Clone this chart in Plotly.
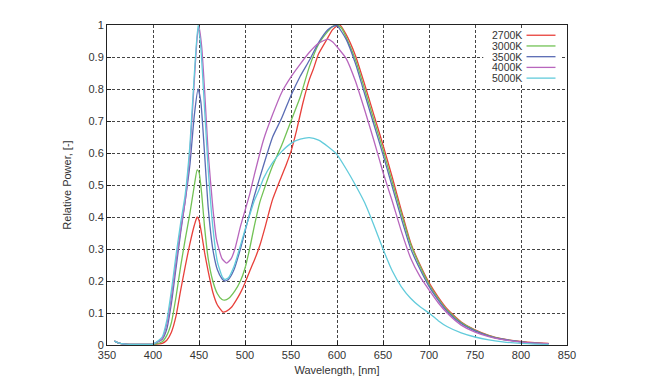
import plotly.graph_objects as go

# ---- data ----
series_names = ["2700K", "3000K", "3500K", "4000K", "5000K"]
series_colors = ["#e8403a", "#72c255", "#5a6cb4", "#b866bd", "#62cbdb"]

wl_2700 = [358, 362, 370, 385, 400, 410, 415, 420, 425, 430, 435, 440, 445, 448, 450, 453, 456, 460, 465, 470, 476,
           480, 485, 490, 495, 500, 505, 511, 516, 522, 527, 530, 538, 545, 550, 556, 563, 570, 574, 580, 589, 595,
           600, 603, 610, 620, 630, 640, 650, 660, 670, 680, 690, 700, 710, 720, 735, 750, 765, 780, 800, 815, 830]
p_2700 = [0.012, 0.007, 0.003, 0.002, 0.002, 0.005, 0.015, 0.04, 0.09, 0.17, 0.245, 0.315, 0.375, 0.4, 0.39, 0.345,
          0.29, 0.23, 0.165, 0.125, 0.103, 0.106, 0.117, 0.138, 0.163, 0.194, 0.23, 0.271, 0.31, 0.37, 0.425, 0.455,
          0.515, 0.565, 0.605, 0.67, 0.757, 0.83, 0.86, 0.91, 0.955, 0.985, 0.997, 1.0, 0.97, 0.905, 0.815, 0.72,
          0.625, 0.525, 0.42, 0.32, 0.252, 0.195, 0.15, 0.112, 0.072, 0.047, 0.03, 0.019, 0.011, 0.007, 0.005]

wl_3000 = [358, 362, 370, 385, 400, 410, 415, 420, 425, 430, 435, 440, 445, 448, 450, 453, 456, 460, 465, 470, 475,
           478, 482, 489, 495, 500, 505, 510, 516, 520, 530, 540, 550, 560, 570, 580, 590, 595, 600, 605, 610, 620,
           630, 640, 650, 660, 670, 680, 690, 700, 710, 720, 735, 750, 765, 780, 800, 815, 830]
p_3000 = [0.012, 0.007, 0.003, 0.002, 0.002, 0.01, 0.03, 0.07, 0.15, 0.245, 0.33, 0.41, 0.5, 0.547, 0.54, 0.47, 0.37,
          0.27, 0.2, 0.16, 0.142, 0.14, 0.145, 0.169, 0.2, 0.24, 0.3, 0.37, 0.445, 0.48, 0.56, 0.625, 0.7, 0.775,
          0.87, 0.94, 0.98, 0.995, 1.0, 0.99, 0.962, 0.892, 0.8, 0.705, 0.61, 0.51, 0.41, 0.315, 0.248, 0.19, 0.145,
          0.108, 0.07, 0.046, 0.029, 0.018, 0.01, 0.006, 0.004]

wl_3500 = [358, 362, 370, 385, 400, 410, 415, 420, 425, 430, 435, 440, 445, 449, 452, 456, 460, 465, 470, 475, 478,
           482, 488, 495, 500, 505, 510, 520, 530, 540, 550, 560, 570, 580, 590, 595, 600, 610, 620, 630, 640, 650,
           660, 670, 680, 690, 700, 710, 720, 735, 750, 765, 780, 800, 815, 830]
p_3500 = [0.012, 0.007, 0.003, 0.002, 0.003, 0.018, 0.05, 0.13, 0.24, 0.35, 0.45, 0.56, 0.72, 0.8, 0.76, 0.6, 0.43,
          0.3, 0.235, 0.207, 0.2, 0.205, 0.235, 0.3, 0.355, 0.41, 0.465, 0.56, 0.65, 0.71, 0.78, 0.84, 0.89, 0.945,
          0.985, 0.995, 0.998, 0.955, 0.88, 0.785, 0.69, 0.595, 0.495, 0.395, 0.302, 0.238, 0.183, 0.14, 0.104, 0.067,
          0.044, 0.028, 0.018, 0.01, 0.006, 0.004]

wl_4000 = [358, 362, 370, 385, 400, 410, 415, 420, 425, 430, 435, 440, 445, 448, 450, 453, 456, 460, 465, 469, 475,
           480, 485, 489, 495, 500, 505, 510, 520, 530, 540, 550, 560, 570, 580, 590, 595, 600, 610, 620, 630, 640,
           650, 660, 670, 680, 690, 700, 710, 720, 735, 750, 765, 780, 800, 815, 830]
p_4000 = [0.012, 0.007, 0.003, 0.002, 0.003, 0.02, 0.065, 0.15, 0.26, 0.36, 0.45, 0.6, 0.83, 0.96, 0.995, 0.93, 0.8,
          0.6, 0.43, 0.33, 0.27, 0.256, 0.27, 0.3, 0.37, 0.42, 0.47, 0.53, 0.64, 0.72, 0.79, 0.838, 0.878, 0.915,
          0.943, 0.956, 0.948, 0.932, 0.895, 0.825, 0.735, 0.64, 0.54, 0.45, 0.355, 0.272, 0.215, 0.172, 0.132, 0.099,
          0.062, 0.04, 0.026, 0.017, 0.009, 0.006, 0.004]

wl_5000 = [358, 362, 370, 385, 400, 410, 415, 420, 425, 430, 435, 440, 445, 449, 452, 456, 460, 465, 470, 475, 478,
           482, 488, 495, 500, 505, 510, 516, 520, 530, 540, 550, 560, 570, 580, 590, 600, 610, 620, 630, 640, 650,
           660, 670, 680, 690, 700, 710, 720, 735, 750, 765, 780, 800, 815, 830]
p_5000 = [0.012, 0.007, 0.003, 0.002, 0.003, 0.025, 0.077, 0.17, 0.28, 0.38, 0.47, 0.62, 0.85, 1.0, 0.93, 0.74, 0.55,
          0.37, 0.26, 0.215, 0.205, 0.21, 0.245, 0.31, 0.36, 0.405, 0.45, 0.49, 0.52, 0.57, 0.605, 0.63, 0.643,
          0.648, 0.64, 0.62, 0.595, 0.55, 0.5, 0.445, 0.375, 0.3, 0.232, 0.182, 0.146, 0.12, 0.1, 0.076, 0.057, 0.038,
          0.025, 0.016, 0.01, 0.005, 0.003, 0.002]

x_ticks = [350, 400, 450, 500, 550, 600, 650, 700, 750, 800, 850]
y_ticks = [0, 0.1, 0.2, 0.3, 0.4, 0.5, 0.6, 0.7, 0.8, 0.9, 1]

all_wl = [wl_2700, wl_3000, wl_3500, wl_4000, wl_5000]
all_p = [p_2700, p_3000, p_3500, p_4000, p_5000]

FONT = "Liberation Sans, Arial, sans-serif"

fig = go.Figure()
for name, col, xs, ys in zip(series_names, series_colors, all_wl, all_p):
    fig.add_trace(go.Scatter(x=xs, y=ys, mode="lines", name=name,
                             line=dict(color=col, width=1.3, shape="spline", smoothing=0.5),
                             showlegend=False))

# custom legend (text left, line sample right), like the reference
shapes = [dict(type="rect", xref="paper", yref="paper", x0=0.818, x1=0.985, y0=0.815, y1=0.99,
               fillcolor="white", line=dict(width=0), layer="above")]
annotations = []
row_h = 0.0335
for i, (name, col) in enumerate(zip(series_names, series_colors)):
    yy = 0.968 - i * row_h
    annotations.append(dict(xref="paper", yref="paper", x=0.905, y=yy, text=name, showarrow=False,
                            xanchor="right", yanchor="middle", borderpad=0,
                            font=dict(family=FONT, size=10.5, color="#333")))
    shapes.append(dict(type="line", xref="paper", yref="paper", x0=0.912, x1=0.975, y0=yy, y1=yy,
                       line=dict(color=col, width=1.3), layer="above"))

fig.update_layout(
    width=648, height=383,
    margin=dict(l=99, r=89, t=11, b=46),
    paper_bgcolor="white", plot_bgcolor="white",
    font=dict(family=FONT, size=11, color="#333"),
    shapes=shapes, annotations=annotations,
)
fig.update_xaxes(range=[350, 850], tickvals=x_ticks, ticktext=[str(v) for v in x_ticks],
                 showgrid=True, gridcolor="#444", griddash="3px,2px", gridwidth=1,
                 showline=True, linecolor="#222", linewidth=1, mirror=True,
                 ticks="inside", ticklen=4, tickcolor="#222",
                 zeroline=False, title=dict(text="Wavelength, [nm]", standoff=6,
                                            font=dict(family=FONT, size=11, color="#333")))
fig.update_yaxes(range=[0, 1], tickvals=y_ticks, ticktext=[("%g" % v) for v in y_ticks],
                 showgrid=True, gridcolor="#444", griddash="3px,2px", gridwidth=1,
                 showline=True, linecolor="#222", linewidth=1, mirror=True,
                 ticks="inside", ticklen=4, tickcolor="#222",
                 zeroline=False, title=dict(text="Relative Power, [-]", standoff=14,
                                            font=dict(family=FONT, size=11, color="#333")))

fig.write_html("out.html")
